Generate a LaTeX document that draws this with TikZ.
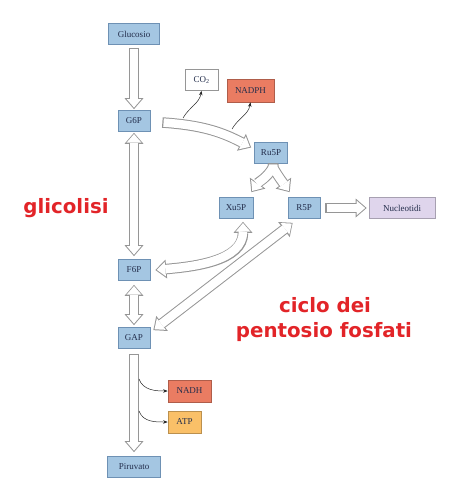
\documentclass[tikz,border=0pt]{standalone}
\usepackage{fontspec}
\setmainfont{Liberation Serif}
\newfontfamily\labelfont{DejaVu Sans}
\usetikzlibrary{arrows.meta}

\definecolor{boxblue}{RGB}{164,198,226}
\definecolor{boxline}{RGB}{110,145,180}
\definecolor{boxtext}{RGB}{35,45,75}
\definecolor{nadred}{RGB}{234,124,98}
\definecolor{atporange}{RGB}{250,192,104}
\definecolor{nuclilac}{RGB}{223,213,236}
\definecolor{arrline}{RGB}{150,150,150}
\definecolor{labred}{RGB}{226,36,40}

\tikzset{
  met/.style={draw=boxline, fill=boxblue, line width=0.7pt, minimum height=21pt,
    inner sep=0pt, text=boxtext, font=\fontsize{9}{10}\selectfont},
  prod/.style={met, draw=#1!75!black, fill=#1},
  % hollow arrows: grey outer pass, then white inner pass
  hout/.style={draw=arrline, line width=10.5pt,
    >={Triangle[length=11pt,width=19pt,line width=0pt]}},
  hin/.style={draw=white, line width=8.5pt, shorten >=1.5pt, shorten <=1.2pt,
    >={Triangle[length=8.5pt,width=14.6pt,line width=0pt]}},
  side/.style={draw=black!85, line width=0.5pt, -{Stealth[length=4.5pt,width=3.5pt]}},
  tag/.style={text=labred, font=\labelfont\bfseries\fontsize{19.8}{25.5}\selectfont},
}

\begin{document}
\begin{tikzpicture}[x=1pt,y=1pt]
  \useasboundingbox (0,0) rectangle (458,-503);

  % metabolites
  \node[met, minimum width=51pt] (gluc) at (134,-34) {Glucosio};
  \node[met, minimum width=32pt] (g6p) at (134,-121) {G6P};
  \node[met, minimum width=32pt] (f6p) at (134,-270) {F6P};
  \node[met, minimum width=32pt] (gap) at (134,-338) {GAP};
  \node[met, minimum width=53pt] (piru) at (134,-467) {Piruvato};
  \node[met, minimum width=33pt] (ru5p) at (271,-152.5) {Ru5P};
  \node[met, minimum width=34pt] (xu5p) at (236,-208) {Xu5P};
  \node[met, minimum width=32pt] (r5p) at (304,-208) {R5P};
  \node[prod=nuclilac, minimum width=66pt] (nucl) at (402,-208) {Nucleotidi};
  \node[prod=white, draw=arrline, minimum width=33pt] (co2) at (201.5,-80) {CO\textsubscript{2}};
  \node[prod=nadred, minimum width=47pt, minimum height=23pt] (nadph) at (250.5,-90.5) {NADPH};
  \node[prod=nadred, minimum width=43pt, minimum height=22pt] (nadh) at (189.5,-391) {NADH};
  \node[prod=atporange, minimum width=33pt, minimum height=22pt] (atp) at (184.5,-422) {ATP};

  % hollow arrows
  \foreach \lay in {hout,hin} {
    \draw[\lay,->] ([yshift=-3pt]gluc.south) -- ([yshift=1pt]g6p.north);
    \draw[\lay,<->] ([yshift=-1pt]g6p.south) -- ([yshift=3pt]f6p.north);
    \draw[\lay,<->] ([yshift=-4pt]f6p.south) -- ([yshift=2pt]gap.north);
    \draw[\lay,->] ([yshift=-5pt]gap.south) -- ([yshift=4pt]piru.north);
    \draw[\lay,->] ([xshift=12pt,yshift=-1.5pt]g6p.east)
      to[out=-4,in=152] ([shift={(-3pt,5pt)}]ru5p.west);
    \draw[\lay,->] ([xshift=2pt]ru5p.south) -- ++(0,-4)
      to[out=-120,in=55] ([shift={(-2pt,5pt)}]xu5p.north east);
    \draw[\lay,->] ([xshift=2pt]ru5p.south) -- ++(0,-4)
      to[out=-60,in=125] ([shift={(2pt,5pt)}]r5p.north west);
    \draw[\lay,->] ([xshift=5pt]r5p.east) -- ([xshift=-2pt]nucl.west);
    \draw[\lay,<->] ([shift={(7pt,-3pt)}]xu5p.south)
      to[out=-90,in=5] ([xshift=5pt]f6p.east);
    \draw[\lay,<->] ([shift={(5pt,-4pt)}]r5p.south west)
      -- ([shift={(3pt,-3pt)}]gap.north east);
  }

  % side products
  \coordinate (outco2) at (183,-118);
  \coordinate (outnadph) at (232,-129);
  \coordinate (outnadh) at (139,-379);
  \coordinate (outatp) at (139,-411);
  \draw[side] (outco2) to[out=60,in=-100] (co2.south);
  \draw[side] (outnadph) to[out=60,in=-100] (nadph.south);
  \draw[side] (outnadh) to[out=-70,in=180] (nadh.west);
  \draw[side] (outatp) to[out=-70,in=180] (atp.west);

  % pathway names
  \node[tag, anchor=base] (glic) at (66,-213) {glicolisi};
  \node[tag, anchor=base] (ciclo) at (325,-312) {ciclo dei};
  \node[tag, anchor=base] (pento) at (324,-337.5) {pentosio fosfati};
\end{tikzpicture}
\end{document}
